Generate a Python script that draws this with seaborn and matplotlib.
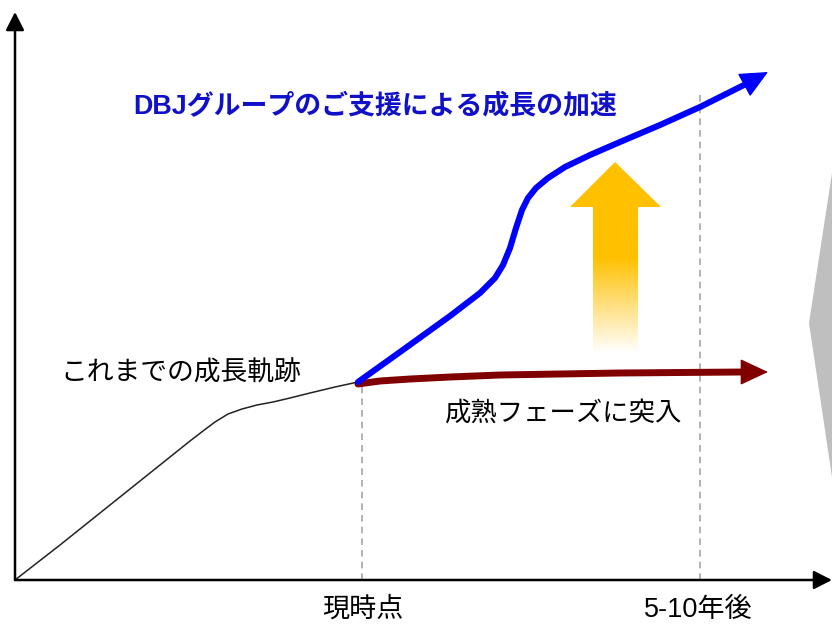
import numpy as np
import pandas as pd
import matplotlib.pyplot as plt
import seaborn as sns
from matplotlib.patches import Polygon
from matplotlib.colors import LinearSegmentedColormap

# --- data (time axis, growth level) ---
past_t = [0, 45, 95, 145, 175, 188, 200, 213, 227, 242, 258, 275, 295, 320, 343]
past_v = [0, 35, 75, 115, 139, 149, 158, 166, 171, 175, 178, 182, 187, 193, 198]

dbj_t = [343, 385, 435, 465, 480, 488, 495, 501, 507, 513, 521, 533, 550, 575,
         605, 645, 685, 731]
dbj_v = [198, 228, 264, 287, 302, 315, 332, 352, 370, 382, 392, 402, 413, 425,
         438, 455, 473, 496]
dbj_tip = (753, 508)

mature_t = [343, 365, 395, 435, 485, 545, 605, 665, 728]
mature_v = [196, 199, 201, 203, 205, 206, 207, 207.5, 208]
mature_tip = (753, 208)

now_t = 347
future_t = 685
tick_labels = ["現時点", "5-10年後"]

title_text = "DBJグループのご支援による成長の加速"
past_text = "これまでの成長軌跡"
mature_text = "成熟フェーズに突入"

sns.set_theme(style="white")
plt.rcParams["font.family"] = ["Liberation Sans", "Noto Sans CJK JP", "DejaVu Sans"]

fig = plt.figure(figsize=(8.32, 6.24), dpi=100)
ax = fig.add_axes([0, 0, 1, 1])

# axes with arrows
axis_arrow = dict(arrowstyle="-|>,head_length=0.55,head_width=0.28",
                  color="black", lw=1.8, mutation_scale=20,
                  shrinkA=0, shrinkB=0)
ax.annotate("", xy=(0, 568), xytext=(0, 0), arrowprops=axis_arrow)
ax.annotate("", xy=(817, 0), xytext=(0, 0), arrowprops=axis_arrow)

# dashed guides
ax.plot([now_t, now_t], [0, 195], color="#A6A6A6", lw=1.2, ls=(0, (4, 3)))
ax.plot([future_t, future_t], [0, 485], color="#A6A6A6", lw=1.2, ls=(0, (4, 3)))

# gray chevron at right edge
ax.add_patch(Polygon([(830, 407), (817, 407), (794, 257), (817, 103), (830, 103)],
                     closed=True, color="#BFBFBF", lw=0))

# orange gradient arrow
arrow_poly = [(578, 227), (578, 373), (555, 373), (600, 418),
              (646, 373), (623, 373), (623, 227)]
patch = Polygon(arrow_poly, closed=True, facecolor="none", edgecolor="none")
ax.add_patch(patch)
rows = np.linspace(227, 418, 200)
grad = np.clip((rows - 227) / (323 - 227), 0, 1)[:, None]
cmap = LinearSegmentedColormap.from_list("fade", ["#FFFFFF", "#FFC000"])
img = ax.imshow(grad, cmap=cmap, vmin=0, vmax=1, origin="lower",
                extent=(555, 646, 227, 418), aspect="auto", zorder=2)
img.set_clip_path(patch)

# curves
past = pd.DataFrame({"t": past_t, "v": past_v})
dbj = pd.DataFrame({"t": dbj_t, "v": dbj_v})
mature = pd.DataFrame({"t": mature_t, "v": mature_v})

sns.lineplot(data=past, x="t", y="v", sort=False, estimator=None,
             color="#222222", lw=1.1, ax=ax)
sns.lineplot(data=mature, x="t", y="v", sort=False, estimator=None,
             color="#800000", lw=5, ax=ax, zorder=4)
sns.lineplot(data=dbj, x="t", y="v", sort=False, estimator=None,
             color="#0000FF", lw=4.4, ax=ax, zorder=5)
for line in ax.get_lines():
    line.set_solid_joinstyle("round")
ax.set_xlim(-15, 817)
ax.set_ylim(-44, 580)
ax.axis("off")

head = "-|>,head_length=0.9,head_width=0.42"
ax.annotate("", xy=dbj_tip, xytext=(dbj_t[-1], dbj_v[-1]),
            arrowprops=dict(arrowstyle=head, color="#0000FF", lw=1,
                            mutation_scale=20, shrinkA=0, shrinkB=0), zorder=5)
ax.annotate("", xy=mature_tip, xytext=(mature_t[-1], mature_v[-1]),
            arrowprops=dict(arrowstyle=head, color="#800000", lw=1,
                            mutation_scale=20, shrinkA=0, shrinkB=0), zorder=4)

# texts
ax.text(360, 473, title_text, color="#1010C8", fontsize=19.4, fontweight="bold",
        ha="center", va="center")
ax.text(166, 206, past_text, color="black", fontsize=19.3, ha="center", va="center")
ax.text(548, 167, mature_text, color="black", fontsize=19, ha="center", va="center")
ax.text(now_t + 1, -30, tick_labels[0], color="black", fontsize=19.5, ha="center", va="center")
ax.text(future_t - 2, -30, tick_labels[1], color="black", fontsize=19.5, ha="center", va="center")

fig.savefig("out.png", dpi=100)
